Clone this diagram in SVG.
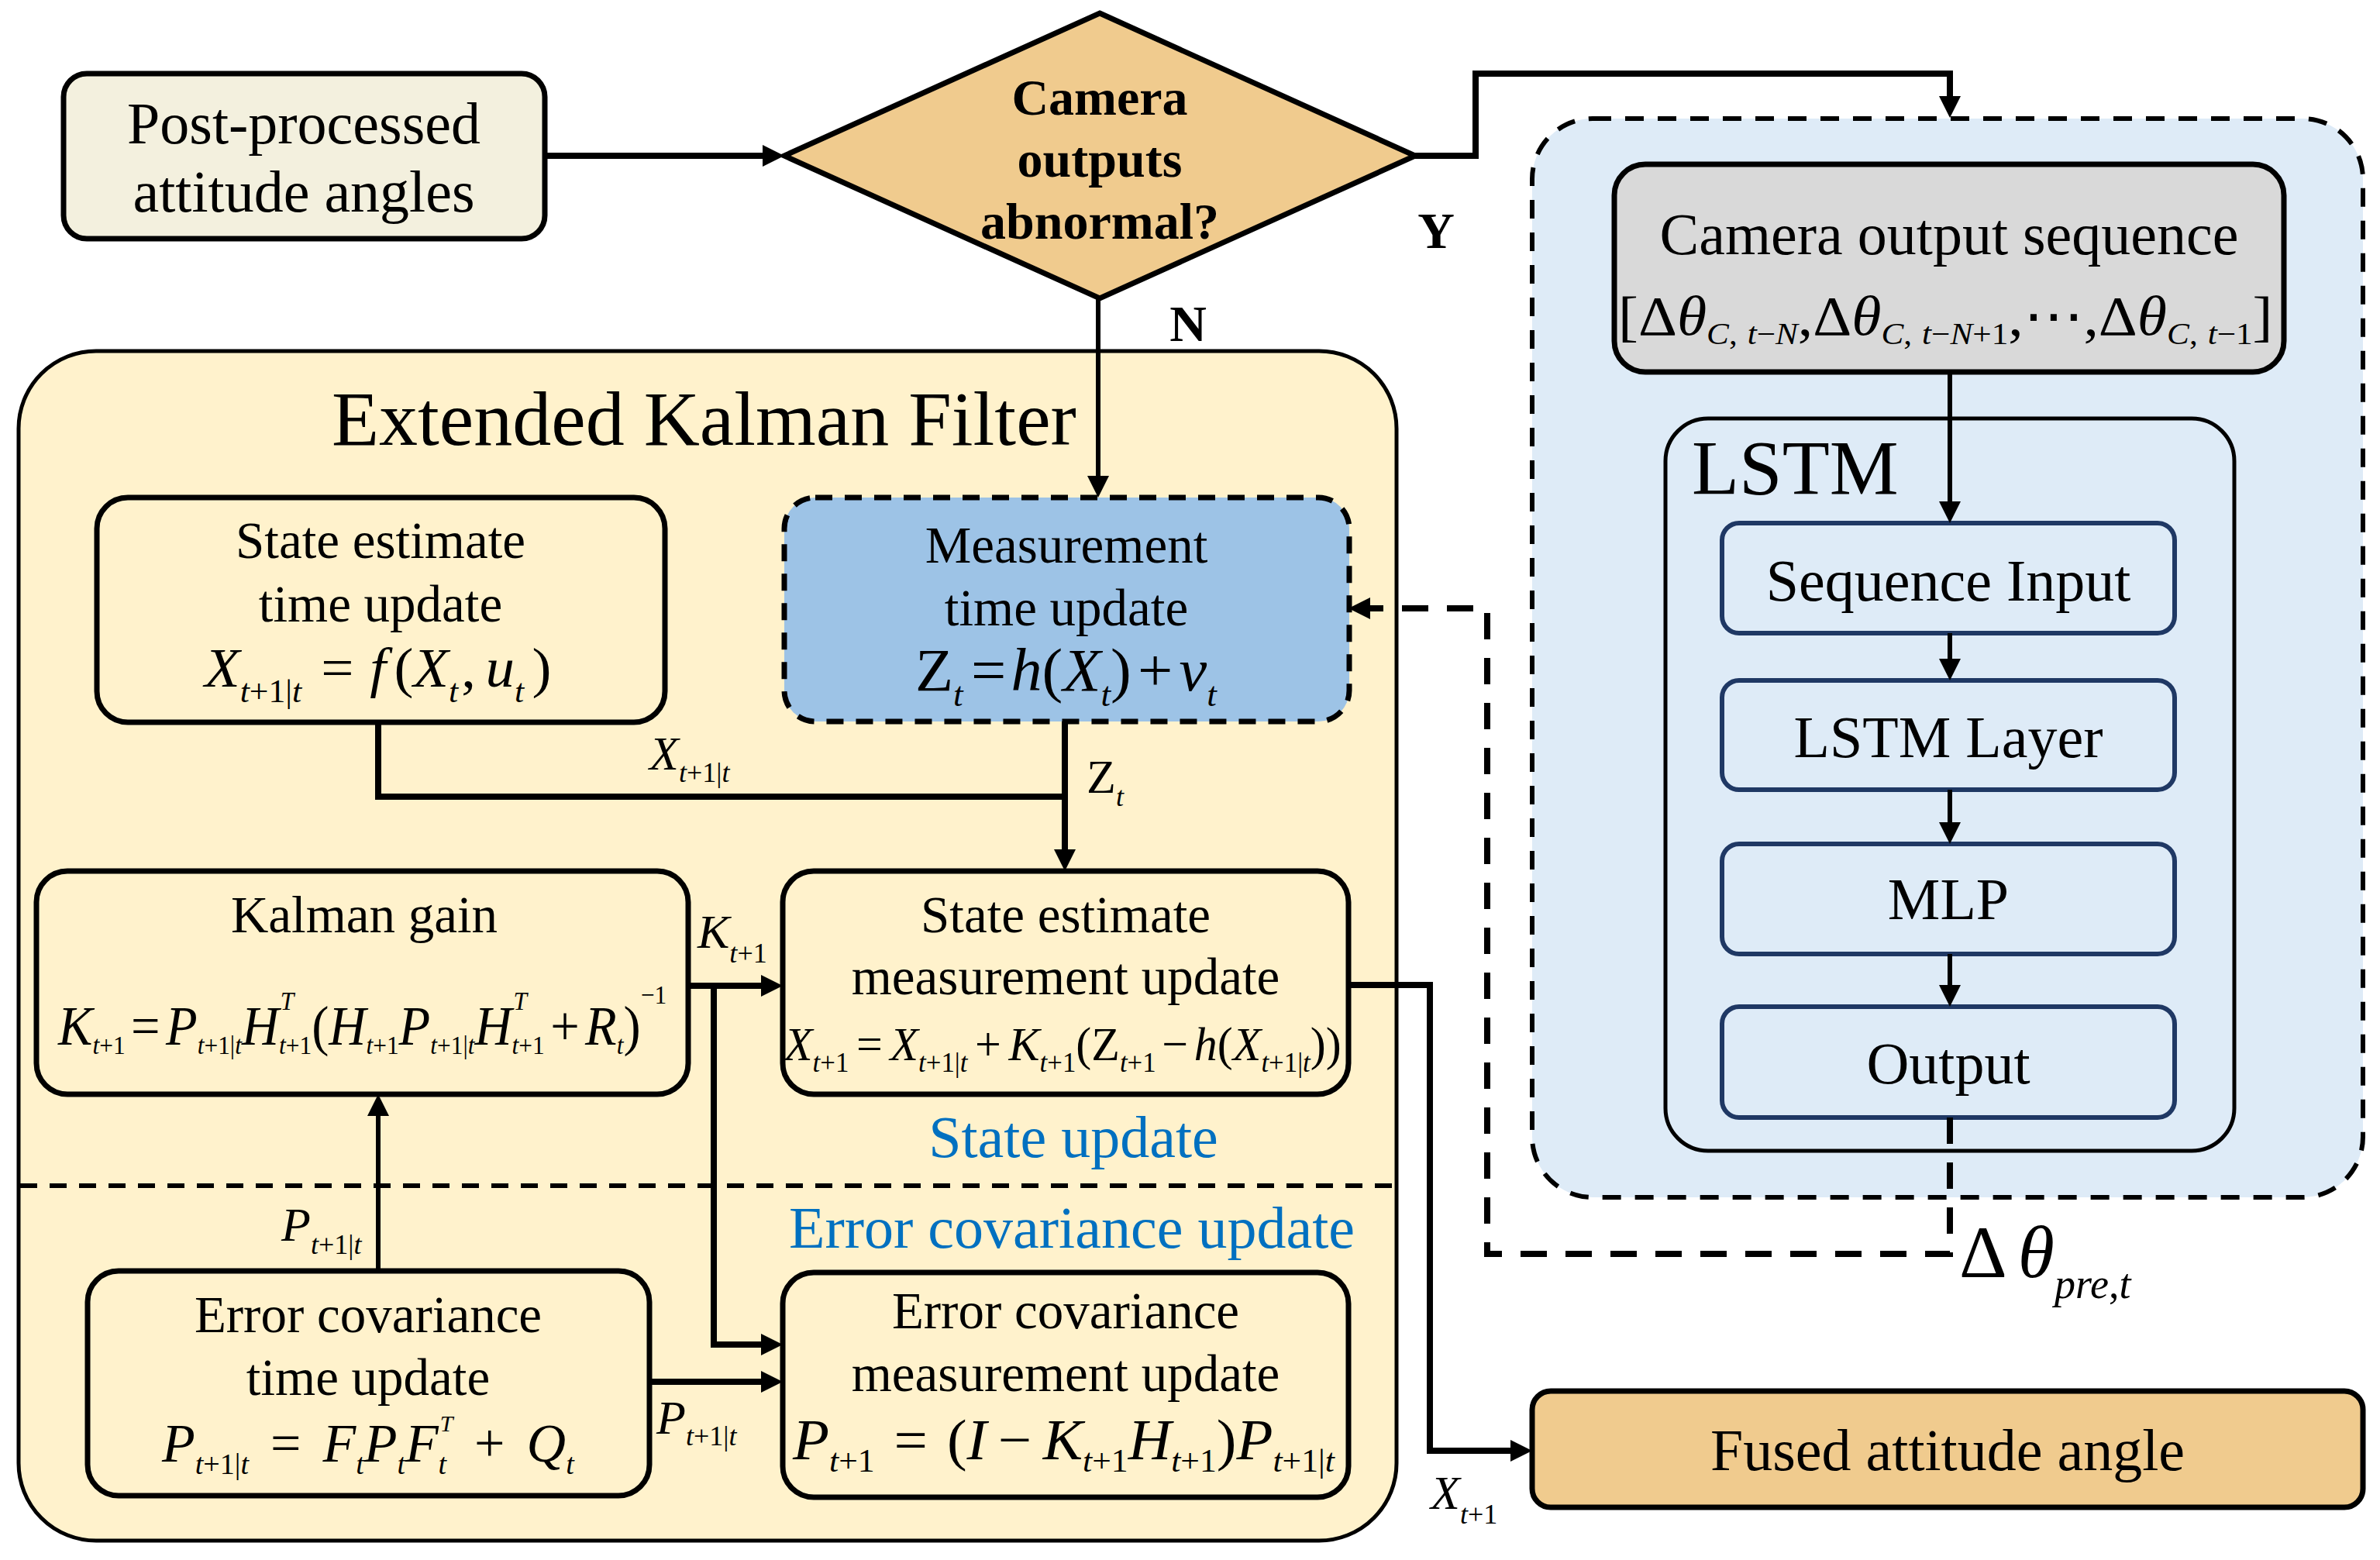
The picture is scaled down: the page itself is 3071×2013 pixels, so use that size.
<svg xmlns="http://www.w3.org/2000/svg" width="3071" height="2013" viewBox="0 0 3071 2013">
<defs>
<style>
text{font-family:'Liberation Serif','Times New Roman',serif;fill:#000}
.lb{font-size:76px;text-anchor:middle}
.lk{font-size:67px;text-anchor:middle}
.bd{font-size:66px;font-weight:bold;text-anchor:middle}
.bl{fill:#0070C0;font-size:76px;text-anchor:middle}
.ttl{font-size:100px}
.i{font-style:italic}
.box{stroke:#000;stroke-width:7}
.wire{fill:none;stroke:#000;stroke-width:8}
.thin{fill:none;stroke:#000;stroke-width:6}
.dash{fill:none;stroke:#000;stroke-width:8;stroke-dasharray:34 24}
.nv{fill:#DEEBF7;stroke:#1F3864;stroke-width:6}
</style>
<marker id="ah" markerUnits="userSpaceOnUse" markerWidth="28" markerHeight="28" refX="20" refY="14" orient="auto"><path d="M0,0 L28,14 L0,28 z" fill="#000"/></marker>
</defs>
<rect x="0" y="0" width="3071" height="2013" fill="#fff"/>

<g id="ekf">
<rect x="24" y="453" width="1778" height="1535" rx="100" fill="#FFF2CC" stroke="#000" stroke-width="5"/>
<text class="ttl" x="428" y="574">Extended Kalman Filter</text>
<line x1="26" y1="1530" x2="1800" y2="1530" stroke="#000" stroke-width="6" stroke-dasharray="22 16"/>
<text class="bl" x="1385" y="1493">State update</text>
<text class="bl" x="1383" y="1610">Error covariance update</text>
</g>

<g id="lstm-module">
<rect x="1977" y="153" width="1072" height="1392" rx="78" fill="#DEEBF7" stroke="#000" stroke-width="6" stroke-dasharray="24 18"/>
</g>

<g id="post">
<rect x="82" y="95" width="621" height="213" rx="30" fill="#F3F0DE" class="box"/>
<text class="lb" x="392" y="185">Post-processed</text>
<text class="lb" x="392" y="273">attitude angles</text>
</g>

<g id="decision">
<polygon points="1419,17 1826,201 1419,385 1012,201" fill="#F0CB8E" class="box"/>
<text class="bd" x="1419" y="148">Camera</text>
<text class="bd" x="1419" y="228">outputs</text>
<text class="bd" x="1419" y="308">abnormal?</text>
</g>

<g id="stu">
<rect x="125" y="642" width="733" height="290" rx="40" fill="#FFF2CC" class="box"/>
<text class="lk" x="491" y="720">State estimate</text>
<text class="lk" x="491" y="802">time update</text>
<g transform="translate(264,886) scale(1.04,1)"><text font-size="72"><tspan class="i">X</tspan><tspan font-size="42" dy="20"><tspan class="i">t</tspan>+1|<tspan class="i">t</tspan></tspan><tspan dx="24" dy="-20">=</tspan><tspan class="i" dx="20">f</tspan><tspan dx="10">(</tspan><tspan class="i">X</tspan><tspan font-size="42" class="i" dy="20">t</tspan><tspan dx="4" dy="-20">,</tspan><tspan class="i" dx="12">u</tspan><tspan font-size="42" class="i" dy="20">t</tspan><tspan dx="10" dy="-20">)</tspan></text></g>
</g>

<g id="mtu">
<rect x="1012" y="642" width="729" height="289" rx="40" fill="#9DC3E6" stroke="#000" stroke-width="7" stroke-dasharray="22 16"/>
<text class="lk" x="1376" y="726">Measurement</text>
<text class="lk" x="1376" y="807">time update</text>
<g transform="translate(1181,891) scale(1.03,1)"><text font-size="78">Z<tspan font-size="44" class="i" dy="20">t</tspan><tspan dx="10" dy="-20">=</tspan><tspan class="i" dx="6">h</tspan>(<tspan class="i">X</tspan><tspan font-size="44" class="i" dy="20">t</tspan><tspan dy="-20">)</tspan><tspan dx="8">+</tspan><tspan class="i" dx="8">v</tspan><tspan font-size="44" class="i" dy="20">t</tspan></text></g>
</g>

<g id="kalman-gain">
<rect x="47" y="1124" width="841" height="288" rx="40" fill="#FFF2CC" class="box"/>
<text class="lk" x="470" y="1203">Kalman gain</text>
<g transform="translate(75,1348) scale(0.925,1)"><text font-size="72"><tspan class="i">K</tspan><tspan font-size="34" dy="12"><tspan class="i">t</tspan>+1</tspan><tspan dx="8" dy="-12">=</tspan><tspan class="i" dx="8">P</tspan><tspan font-size="34" dy="12"><tspan class="i">t</tspan>+1|<tspan class="i">t</tspan></tspan><tspan class="i" dy="-12">H</tspan><tspan font-size="34" class="i" dx="2" dy="-45">T</tspan><tspan font-size="34" dx="-21" dy="57"><tspan class="i">t</tspan>+1</tspan><tspan dy="-12">(</tspan><tspan class="i">H</tspan><tspan font-size="34" dy="12"><tspan class="i">t</tspan>+1</tspan><tspan class="i" dy="-12">P</tspan><tspan font-size="34" dy="12"><tspan class="i">t</tspan>+1|<tspan class="i">t</tspan></tspan><tspan class="i" dy="-12">H</tspan><tspan font-size="34" class="i" dx="2" dy="-45">T</tspan><tspan font-size="34" dx="-21" dy="57"><tspan class="i">t</tspan>+1</tspan><tspan dx="8" dy="-12">+</tspan><tspan class="i" dx="8">R</tspan><tspan font-size="34" class="i" dy="12">t</tspan><tspan dy="-12">)</tspan><tspan font-size="34" dy="-53">−1</tspan></text></g>
</g>

<g id="semu">
<rect x="1010" y="1124" width="730" height="288" rx="40" fill="#FFF2CC" class="box"/>
<text class="lk" x="1375" y="1203">State estimate</text>
<text class="lk" x="1375" y="1283">measurement update</text>
<g transform="translate(1012,1368) scale(0.967,1)"><text font-size="62"><tspan class="i">X</tspan><tspan font-size="36" dy="15"><tspan class="i">t</tspan>+1</tspan><tspan dx="10" dy="-15">=</tspan><tspan class="i" dx="10">X</tspan><tspan font-size="36" dy="15"><tspan class="i">t</tspan>+1|<tspan class="i">t</tspan></tspan><tspan dx="10" dy="-15">+</tspan><tspan class="i" dx="10">K</tspan><tspan font-size="36" dy="15"><tspan class="i">t</tspan>+1</tspan><tspan dy="-15">(Z</tspan><tspan font-size="36" dy="15"><tspan class="i">t</tspan>+1</tspan><tspan dx="8" dy="-15">−</tspan><tspan class="i" dx="8">h</tspan>(<tspan class="i">X</tspan><tspan font-size="36" dy="15"><tspan class="i">t</tspan>+1|<tspan class="i">t</tspan></tspan><tspan dy="-15">))</tspan></text></g>
</g>

<g id="ectu">
<rect x="113" y="1640" width="725" height="290" rx="40" fill="#FFF2CC" class="box"/>
<text class="lk" x="475" y="1719">Error covariance</text>
<text class="lk" x="475" y="1800">time update</text>
<g transform="translate(209,1886)"><text font-size="70"><tspan class="i">P</tspan><tspan font-size="38" dy="16"><tspan class="i">t</tspan>+1|<tspan class="i">t</tspan></tspan><tspan dx="28" dy="-16">=</tspan><tspan class="i" dx="28">F</tspan><tspan font-size="38" class="i" dy="16">t</tspan><tspan class="i" dy="-16">P</tspan><tspan font-size="38" class="i" dy="16">t</tspan><tspan class="i" dy="-16">F</tspan><tspan font-size="30" class="i" dx="2" dy="-39">T</tspan><tspan font-size="38" class="i" dx="-19" dy="55">t</tspan><tspan dx="36" dy="-16">+</tspan><tspan class="i" dx="28">Q</tspan><tspan font-size="38" class="i" dy="16">t</tspan></text></g>
</g>

<g id="ecmu">
<rect x="1010" y="1642" width="730" height="290" rx="40" fill="#FFF2CC" class="box"/>
<text class="lk" x="1375" y="1714">Error covariance</text>
<text class="lk" x="1375" y="1795">measurement update</text>
<g transform="translate(1023,1883) scale(1.04,1)"><text font-size="74"><tspan class="i">P</tspan><tspan font-size="42" dy="16"><tspan class="i">t</tspan>+1</tspan><tspan dx="24" dy="-16">=</tspan><tspan dx="24">(</tspan><tspan class="i">I</tspan><tspan dx="14">−</tspan><tspan class="i" dx="14">K</tspan><tspan font-size="42" dy="16"><tspan class="i">t</tspan>+1</tspan><tspan class="i" dy="-16">H</tspan><tspan font-size="42" dy="16"><tspan class="i">t</tspan>+1</tspan><tspan dy="-16">)</tspan><tspan class="i">P</tspan><tspan font-size="42" dy="16"><tspan class="i">t</tspan>+1|<tspan class="i">t</tspan></tspan></text></g>
</g>

<g id="camera-seq">
<rect x="2083" y="212" width="864" height="268" rx="40" fill="#D9D9D9" class="box"/>
<text class="lb" x="2515" y="328">Camera output sequence</text>
<g transform="translate(2088,432) scale(1.08,1)"><text font-size="72">[Δ<tspan class="i">θ</tspan><tspan font-size="40" dy="12"><tspan class="i">C</tspan>,<tspan class="i" dx="12">t</tspan>−<tspan class="i">N</tspan></tspan><tspan dy="-12">,Δ</tspan><tspan class="i">θ</tspan><tspan font-size="40" dy="12"><tspan class="i">C</tspan>,<tspan class="i" dx="12">t</tspan>−<tspan class="i">N</tspan>+1</tspan><tspan dy="-12">,</tspan><tspan font-family="'DejaVu Sans',sans-serif">⋯</tspan>,Δ<tspan class="i">θ</tspan><tspan font-size="40" dy="12"><tspan class="i">C</tspan>,<tspan class="i" dx="12">t</tspan>−1</tspan><tspan dy="-12">]</tspan></text></g>
</g>

<g id="lstm">
<rect x="2149" y="540" width="734" height="945" rx="55" fill="#DEEBF7" stroke="#000" stroke-width="5"/>
<text class="ttl" x="2183" y="637">LSTM</text>
</g>
<g id="seq-input"><rect x="2222" y="675" width="584" height="142" rx="22" class="nv"/><text class="lb" x="2514" y="775">Sequence Input</text></g>
<g id="lstm-layer"><rect x="2222" y="878" width="584" height="141" rx="22" class="nv"/><text class="lb" x="2514" y="977">LSTM Layer</text></g>
<g id="mlp"><rect x="2222" y="1089" width="584" height="142" rx="22" class="nv"/><text class="lb" x="2514" y="1186">MLP</text></g>
<g id="output"><rect x="2222" y="1299" width="584" height="143" rx="22" class="nv"/><text class="lb" x="2514" y="1398">Output</text></g>

<g id="fused">
<rect x="1977" y="1795" width="1072" height="150" rx="24" fill="#F0CB8E" class="box"/>
<text class="lb" x="2513" y="1897">Fused attitude angle</text>
</g>

<g id="connectors">
<line class="wire" x1="703" y1="201" x2="1004" y2="201" marker-end="url(#ah)"/>
<polyline class="wire" points="1826,201 1904,201 1904,95 2516,95 2516,144" marker-end="url(#ah)"/>
<line class="thin" x1="1417" y1="385" x2="1417" y2="634" marker-end="url(#ah)"/>
<polyline class="wire" points="488,932 488,1028 1374,1028"/>
<line class="wire" x1="1374" y1="931" x2="1374" y2="1116" marker-end="url(#ah)"/>
<line class="wire" x1="888" y1="1272" x2="1002" y2="1272" marker-end="url(#ah)"/>
<polyline class="wire" points="921,1272 921,1735 1002,1735" marker-end="url(#ah)"/>
<line class="wire" x1="838" y1="1783" x2="1002" y2="1783" marker-end="url(#ah)"/>
<line class="thin" x1="488" y1="1640" x2="488" y2="1420" marker-end="url(#ah)"/>
<polyline class="wire" points="1740,1271 1845,1271 1845,1872 1969,1872" marker-end="url(#ah)"/>
<line class="thin" x1="2516" y1="480" x2="2516" y2="667" marker-end="url(#ah)"/>
<line class="thin" x1="2516" y1="817" x2="2516" y2="870" marker-end="url(#ah)"/>
<line class="thin" x1="2516" y1="1019" x2="2516" y2="1081" marker-end="url(#ah)"/>
<line class="thin" x1="2516" y1="1231" x2="2516" y2="1291" marker-end="url(#ah)"/>
<polyline class="dash" points="2516,1442 2516,1618 1919,1618 1919,785 1748,785" marker-end="url(#ah)"/>
</g>

<g id="labels">
<text class="bd" x="1853" y="320">Y</text>
<text class="bd" x="1533" y="440">N</text>
<text x="838" y="993" font-size="62"><tspan class="i">X</tspan><tspan font-size="36" dy="16"><tspan class="i">t</tspan>+1|<tspan class="i">t</tspan></tspan></text>
<text x="1402" y="1023" font-size="62">Z<tspan class="i" font-size="36" dy="17">t</tspan></text>
<text x="900" y="1223" font-size="62"><tspan class="i">K</tspan><tspan font-size="36" dy="19"><tspan class="i">t</tspan>+1</tspan></text>
<text x="363" y="1601" font-size="62"><tspan class="i">P</tspan><tspan font-size="36" dy="17"><tspan class="i">t</tspan>+1|<tspan class="i">t</tspan></tspan></text>
<text x="847" y="1850" font-size="62"><tspan class="i">P</tspan><tspan font-size="36" dy="15"><tspan class="i">t</tspan>+1|<tspan class="i">t</tspan></tspan></text>
<text x="1846" y="1947" font-size="62"><tspan class="i">X</tspan><tspan font-size="36" dy="19"><tspan class="i">t</tspan>+1</tspan></text>
<text x="2528" y="1648" font-size="96">Δ<tspan class="i" dx="14">θ</tspan><tspan font-size="54" class="i" dy="27">pre<tspan font-style="normal">,</tspan>t</tspan></text>
</g>
</svg>
